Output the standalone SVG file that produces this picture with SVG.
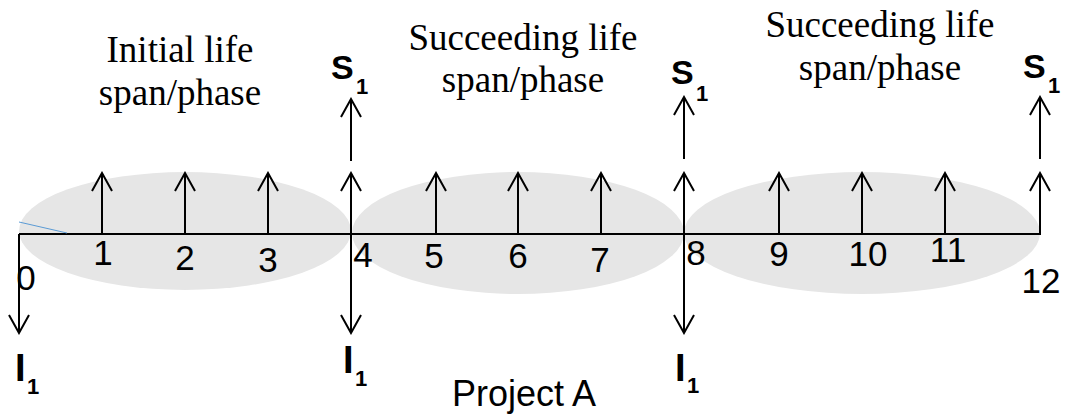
<svg xmlns="http://www.w3.org/2000/svg" width="1065" height="416" viewBox="0 0 1065 416">
  <style>
    .phase { fill: #e6e6e6; stroke: none; }
    .axis { stroke: #000; stroke-width: 2; fill: none; }
    .flow { stroke: #000; stroke-width: 2; fill: none; marker-end: url(#head); }
    .title { font-family: "Liberation Serif", "Times New Roman", serif; font-size: 37px; fill: #000; text-anchor: middle; }
    .tick { font-family: "Liberation Sans", Arial, sans-serif; font-size: 35px; fill: #000; text-anchor: middle; }
    .sym { font-family: "Liberation Sans", Arial, sans-serif; font-weight: bold; fill: #000; }
    .big { font-size: 34px; }
    .inv { font-size: 38px; }
    .sub { font-size: 22px; }
    .caption { font-family: "Liberation Sans", Arial, sans-serif; font-size: 36px; fill: #000; text-anchor: middle; }
  </style>
  <defs>
    <marker id="head" viewBox="-20 -12 22 24" refX="0" refY="0" markerWidth="22" markerHeight="24" markerUnits="userSpaceOnUse" orient="auto">
      <path d="M-18,-10 L0,0 L-18,10" fill="none" stroke="#000" stroke-width="2"/>
    </marker>
  </defs>

  <!-- life span phases -->
  <g id="phase-initial">
    <ellipse class="phase" cx="185" cy="231" rx="166" ry="59"/>
    <text class="title" x="180" y="62">Initial life</text>
    <text class="title" x="180" y="105">span/phase</text>
  </g>
  <g id="phase-second">
    <ellipse class="phase" cx="518" cy="233" rx="166" ry="61"/>
    <text class="title" x="523" y="50">Succeeding life</text>
    <text class="title" x="523" y="92">span/phase</text>
  </g>
  <g id="phase-third">
    <ellipse class="phase" cx="862" cy="233" rx="178" ry="61"/>
    <text class="title" x="880" y="37">Succeeding life</text>
    <text class="title" x="880" y="80">span/phase</text>
  </g>

  <!-- time axis -->
  <g id="axis">
    <line class="axis" x1="19" y1="234" x2="1041" y2="234"/>
    <line x1="19" y1="222" x2="67" y2="233" stroke="#5b9bd5" stroke-width="1"/>
    <text class="tick" x="26" y="290">0</text>
    <text class="tick" x="103" y="265">1</text>
    <text class="tick" x="185" y="270">2</text>
    <text class="tick" x="268" y="272">3</text>
    <text class="tick" x="363" y="267">4</text>
    <text class="tick" x="434" y="268">5</text>
    <text class="tick" x="518" y="268">6</text>
    <text class="tick" x="600" y="272">7</text>
    <text class="tick" x="696" y="265">8</text>
    <text class="tick" x="779" y="266">9</text>
    <text class="tick" x="868" y="266">10</text>
    <text class="tick" x="948" y="262">11</text>
    <text class="tick" x="1041" y="293">12</text>
  </g>

  <!-- cash flows -->
  <g id="connectors">
    <line class="flow" x1="102" y1="234" x2="102" y2="173"/>
    <line class="flow" x1="185" y1="234" x2="185" y2="173"/>
    <line class="flow" x1="268" y1="234" x2="268" y2="173"/>
    <line class="flow" x1="351" y1="234" x2="351" y2="173"/>
    <line class="flow" x1="436" y1="234" x2="436" y2="173"/>
    <line class="flow" x1="518" y1="234" x2="518" y2="173"/>
    <line class="flow" x1="601" y1="234" x2="601" y2="173"/>
    <line class="flow" x1="684" y1="234" x2="684" y2="173"/>
    <line class="flow" x1="779" y1="234" x2="779" y2="173"/>
    <line class="flow" x1="862" y1="234" x2="862" y2="173"/>
    <line class="flow" x1="945" y1="234" x2="945" y2="173"/>
    <line class="flow" x1="1040" y1="234" x2="1040" y2="173"/>

    <line class="flow" x1="351" y1="161" x2="351" y2="99"/>
    <line class="flow" x1="684" y1="159" x2="684" y2="97"/>
    <line class="flow" x1="1040" y1="159" x2="1040" y2="97"/>

    <line class="flow" x1="19" y1="234" x2="19" y2="333"/>
    <line class="flow" x1="351" y1="234" x2="351" y2="333"/>
    <line class="flow" x1="684" y1="234" x2="684" y2="333"/>
  </g>

  <!-- salvage values -->
  <g id="salvage-4">
    <text class="sym big" x="331" y="79">S</text>
    <text class="sym sub" x="356" y="94">1</text>
  </g>
  <g id="salvage-8">
    <text class="sym big" x="671" y="84">S</text>
    <text class="sym sub" x="696" y="101">1</text>
  </g>
  <g id="salvage-12">
    <text class="sym big" x="1023" y="78">S</text>
    <text class="sym sub" x="1048" y="93">1</text>
  </g>

  <!-- investments -->
  <g id="invest-0">
    <text class="sym inv" x="15" y="381">I</text>
    <text class="sym sub" x="27" y="394">1</text>
  </g>
  <g id="invest-4">
    <text class="sym inv" x="343" y="373">I</text>
    <text class="sym sub" x="355" y="386">1</text>
  </g>
  <g id="invest-8">
    <text class="sym inv" x="675" y="381">I</text>
    <text class="sym sub" x="687" y="393">1</text>
  </g>

  <g id="caption">
    <text class="caption" x="524" y="406">Project A</text>
  </g>
</svg>
